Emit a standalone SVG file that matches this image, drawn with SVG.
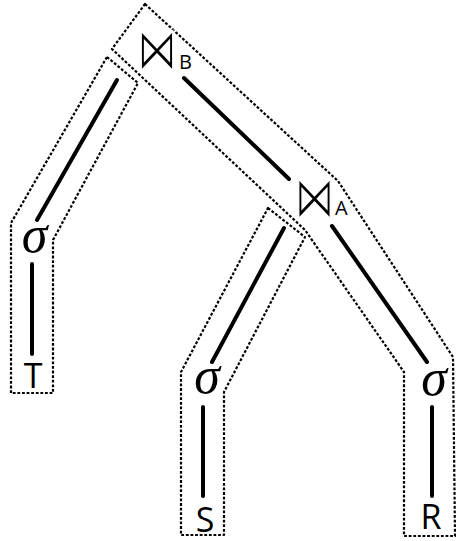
<svg xmlns="http://www.w3.org/2000/svg" width="456" height="541" viewBox="0 0 456 541">
<style>
.box{fill:none;stroke:#000;stroke-width:2.2;stroke-dasharray:2.8 1.8;stroke-linejoin:round}
.edge{stroke:#000;stroke-width:4;stroke-linecap:round;fill:none}
.sig{font-family:"Liberation Serif",serif;font-style:italic;font-size:52px;text-anchor:middle}
.rel{font-family:"Open Sans","Liberation Sans",sans-serif;font-size:34px;text-anchor:middle}
.join{font-family:"DejaVu Sans",sans-serif;font-size:40px;text-anchor:middle;stroke:#fff;stroke-width:1.3}
.sub{font-family:"Open Sans","Liberation Sans",sans-serif;font-size:20px}
</style>
<rect width="456" height="541" fill="#fff"/>
<g id="boxes">
<polygon id="boxT" class="box" points="107,57 138,83 53,240 53,393 11,393 11,223"/>
<polygon id="boxB" class="box" points="145,4 338,181 453,357 455,536 404,536 404,372 305,230 112,49"/>
<polygon id="boxS" class="box" points="268,208 305,237 224,392 224,535 181,535 181,372"/>
</g>
<g id="connectors">
<line class="edge" x1="117" y1="80" x2="37" y2="220"/>
<line class="edge" x1="32" y1="264" x2="32" y2="354"/>
<line class="edge" x1="184" y1="78" x2="289" y2="179"/>
<line class="edge" x1="284" y1="228" x2="212" y2="362"/>
<line class="edge" x1="203" y1="407" x2="203" y2="496"/>
<line class="edge" x1="332" y1="226" x2="427" y2="362"/>
<line class="edge" x1="432" y1="407" x2="432" y2="496"/>
</g>
<g id="joinB"><text class="join" transform="translate(157,69) scale(1,1.45)">⋈</text><text class="sub" x="179" y="69">B</text></g>
<g id="joinA"><text class="join" transform="translate(314.5,217) scale(1,1.45)">⋈</text><text class="sub" x="335" y="215">A</text></g>
<g id="selT"><text class="sig" x="34.5" y="252">σ</text></g>
<g id="selS"><text class="sig" x="207" y="393">σ</text></g>
<g id="selR"><text class="sig" x="434" y="395">σ</text></g>
<g id="relT"><text class="rel" x="33" y="388">T</text></g>
<g id="relS"><text class="rel" x="205" y="532">S</text></g>
<g id="relR"><text class="rel" x="431" y="529">R</text></g>
</svg>
